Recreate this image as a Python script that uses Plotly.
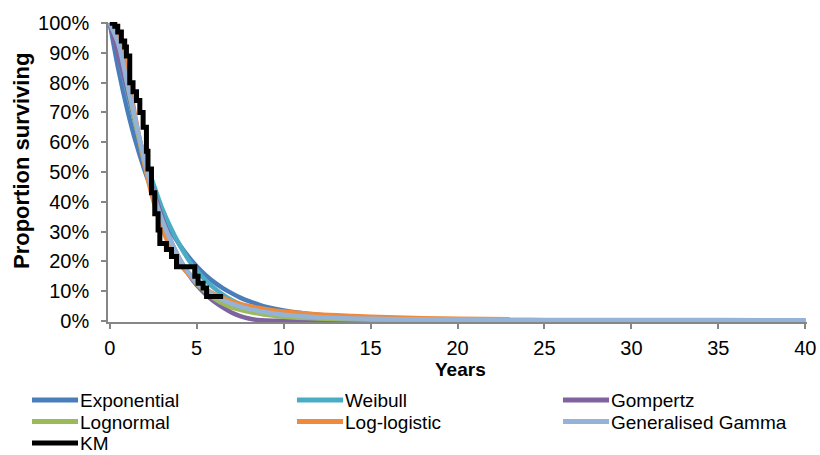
import plotly.graph_objects as go

# ---- data ----
years = [0, 0.5, 1, 1.5, 2, 2.5, 3, 3.5, 4, 4.5, 5, 5.5, 6, 6.5, 7, 7.5, 8, 8.5, 9, 10, 12, 14, 16, 18, 20, 23, 25, 30, 35, 40]

exponential = [1.000, 0.844, 0.712, 0.600, 0.507, 0.427, 0.361, 0.304, 0.257, 0.217, 0.183, 0.154, 0.130, 0.110, 0.093, 0.078, 0.066, 0.056, 0.047, 0.035, 0.020, 0.011, 0.006, 0.003, 0.002, 0.001, 0.0005, 0.0002, 0.0001, 0.0]
weibull = [1.000, 0.894, 0.770, 0.658, 0.550, 0.462, 0.380, 0.314, 0.257, 0.208, 0.169, 0.137, 0.110, 0.088, 0.070, 0.056, 0.044, 0.035, 0.028, 0.017, 0.006, 0.002, 0.001, 0.0005, 0.0002, 0.0001, 0.0, 0.0, 0.0, 0.0]
gompertz = [1.000, 0.890, 0.780, 0.660, 0.540, 0.440, 0.350, 0.270, 0.210, 0.160, 0.120, 0.090, 0.065, 0.045, 0.028, 0.016, 0.008, 0.003, 0.001, 0.0, 0.0, 0.0, 0.0, 0.0, 0.0, 0.0, 0.0, 0.0, 0.0, 0.0]
lognormal = [1.000, 0.950, 0.800, 0.660, 0.530, 0.420, 0.330, 0.260, 0.200, 0.160, 0.125, 0.098, 0.075, 0.058, 0.045, 0.037, 0.030, 0.025, 0.020, 0.014, 0.008, 0.005, 0.003, 0.002, 0.0015, 0.001, 0.0007, 0.0003, 0.0002, 0.0001]
loglogistic_years = [0, 0.5, 1, 1.5, 2, 2.5, 3, 3.5, 4, 4.5, 5, 5.5, 6, 6.5, 7, 7.5, 8, 8.5, 9, 10, 12, 14, 16, 18, 20, 23]
loglogistic = [1.000, 0.959, 0.837, 0.677, 0.527, 0.405, 0.313, 0.245, 0.195, 0.158, 0.129, 0.107, 0.090, 0.077, 0.066, 0.057, 0.050, 0.044, 0.039, 0.031, 0.021, 0.016, 0.012, 0.009, 0.007, 0.005]
gen_gamma = [1.000, 0.930, 0.800, 0.670, 0.540, 0.430, 0.340, 0.270, 0.210, 0.165, 0.130, 0.105, 0.085, 0.070, 0.058, 0.048, 0.040, 0.034, 0.029, 0.020, 0.012, 0.008, 0.006, 0.005, 0.004, 0.0035, 0.003, 0.003, 0.0025, 0.002]

km_years = [0, 0.29, 0.46, 0.67, 0.86, 0.96, 1.15, 1.34, 1.54, 1.73, 1.92, 2.11, 2.20, 2.40, 2.59, 2.78, 2.88, 3.26, 3.55, 3.84, 4.89, 5.08, 5.37, 5.57, 5.66, 6.52]
km = [1.000, 0.990, 0.970, 0.940, 0.920, 0.890, 0.800, 0.770, 0.740, 0.700, 0.650, 0.570, 0.510, 0.430, 0.360, 0.305, 0.260, 0.240, 0.216, 0.182, 0.150, 0.126, 0.110, 0.082, 0.082, 0.082]

x_ticks = [0, 5, 10, 15, 20, 25, 30, 35, 40]
y_ticks = [0, 0.1, 0.2, 0.3, 0.4, 0.5, 0.6, 0.7, 0.8, 0.9, 1.0]

FONT = "Liberation Sans, Arial, sans-serif"
AXIS_GREY = "#868686"

W, H = 820, 455
ML, MR, MT, MB = 108, 13, 22, 133
PW, PH = W - ML - MR, H - MT - MB


def px_x(px):
    return (px - ML) / PW


def px_y(py):
    return (H - MB - py) / PH


series = [
    ("Exponential", years, exponential, "#4A7EBB", 4.5),
    ("Weibull", years, weibull, "#4BACC6", 4.5),
    ("Gompertz", years, gompertz, "#7F62A0", 4.5),
    ("Lognormal", years, lognormal, "#9BBB59", 4.5),
    ("Log-logistic", loglogistic_years, loglogistic, "#EE8A3C", 4.5),
    ("Generalised Gamma", years, gen_gamma, "#95B3D7", 4.5),
    ("KM", km_years, km, "black", 5),
]

fig = go.Figure()
for name, xs, ys, col, w in series:
    shape = "hv" if name == "KM" else "spline"
    line = dict(color=col, width=w, shape=shape)
    if shape == "spline":
        line["smoothing"] = 0.8
    fig.add_trace(go.Scatter(x=xs, y=ys, name=name, mode="lines", line=line, showlegend=False))

# legend drawn as a 3-column grid below the chart (like the reference)
col_line_x = [32, 297, 563]
col_text_x = [79, 344, 610]
row_y = [400, 421.5, 443]
shapes = []
annotations = []
for i, (name, xs, ys, col, w) in enumerate(series):
    c, r = i % 3, i // 3
    shapes.append(dict(type="line", xref="paper", yref="paper",
                       x0=px_x(col_line_x[c]), x1=px_x(col_line_x[c] + 46),
                       y0=px_y(row_y[r]), y1=px_y(row_y[r]),
                       line=dict(color=col, width=5)))
    annotations.append(dict(text=name, xref="paper", yref="paper",
                            x=px_x(col_text_x[c]), y=px_y(row_y[r] + 0.5),
                            xanchor="left", yanchor="middle", showarrow=False, borderpad=0,
                            font=dict(family=FONT, size=19, color="black")))

annotations += [
    dict(text="<b>Years</b>", xref="paper", yref="paper", x=px_x(461), y=px_y(369),
         xanchor="center", yanchor="middle", showarrow=False,
         font=dict(family=FONT, size=19, color="black")),
    dict(text="<b>Proportion surviving</b>", xref="paper", yref="paper", x=px_x(21), y=px_y(161),
         xanchor="center", yanchor="middle", showarrow=False, textangle=-90,
         font=dict(family=FONT, size=22, color="black")),
]

fig.update_layout(
    width=W, height=H,
    margin=dict(l=ML, r=MR, t=MT, b=MB, autoexpand=False),
    paper_bgcolor="white", plot_bgcolor="white",
    font=dict(family=FONT, size=20, color="black"),
    showlegend=False,
    xaxis=dict(range=[-0.1, 40.1], tickvals=x_ticks, ticktext=[str(v) for v in x_ticks],
               showgrid=False, zeroline=False, showline=True, linecolor=AXIS_GREY, linewidth=1.5,
               ticks="outside", ticklen=5, tickcolor=AXIS_GREY, tickwidth=1.5,
               tickfont=dict(family=FONT, size=20), ticklabelstandoff=2),
    yaxis=dict(range=[-0.004, 1.004], tickvals=y_ticks, tickformat=".0%",
               showgrid=False, zeroline=False, showline=True, linecolor=AXIS_GREY, linewidth=1.5,
               ticks="outside", ticklen=5, tickcolor=AXIS_GREY, tickwidth=1.5,
               tickfont=dict(family=FONT, size=20), ticklabelstandoff=8),
    shapes=shapes,
    annotations=annotations,
)

fig.write_html("out.html")
